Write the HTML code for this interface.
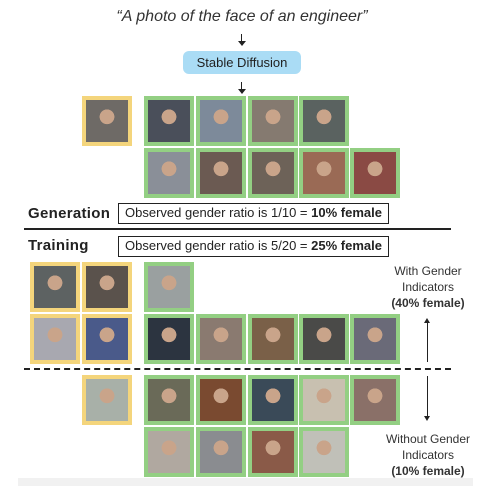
<!DOCTYPE html>
<html><head><meta charset="utf-8"><style>
body{margin:0;width:480px;height:486px;background:#fff;position:relative;overflow:hidden;font-family:"Liberation Sans",sans-serif;color:#222}
.a{position:absolute}
.t{position:absolute;width:50px;height:50px;box-sizing:border-box;border:4px solid #93cf83}
.y{border-color:#f4d57c}
.box{position:absolute;border:1.5px solid #222;box-sizing:border-box;font-size:13px;text-align:center;line-height:18px;white-space:nowrap}
.rt{position:absolute;left:380px;width:96px;text-align:center;font-size:12px;line-height:16px;color:#333}
</style></head><body>
<div class="a" style="left:0;width:484px;top:8px;text-align:center;font-style:italic;font-size:16px;color:#333">“A photo of the face of an engineer”</div>
<div class="a" style="left:241px;top:34px;width:1px;height:10px;background:#222"></div>
<div class="a" style="left:238px;top:41px;border-left:4px solid transparent;border-right:4px solid transparent;border-top:5px solid #222"></div>
<div class="a" style="left:183px;top:51px;width:118px;height:23px;background:#aadcf5;border-radius:6px;text-align:center;line-height:23px;font-size:13px;color:#222">Stable Diffusion</div>
<div class="a" style="left:241px;top:82px;width:1px;height:10px;background:#222"></div>
<div class="a" style="left:238px;top:89px;border-left:4px solid transparent;border-right:4px solid transparent;border-top:5px solid #222"></div>
<div id="tiles"></div>
<div class="a" style="left:28px;top:205px;font-weight:bold;font-size:15px;letter-spacing:0.3px">Generation</div>
<div class="box" style="left:118px;top:203px;width:271px;height:21px">Observed gender ratio is 1/10 = <b>10% female</b></div>
<div class="a" style="left:24px;top:228px;width:427px;height:2px;background:#222"></div>
<div class="a" style="left:28px;top:237px;font-weight:bold;font-size:15px;letter-spacing:0.3px">Training</div>
<div class="box" style="left:118px;top:236px;width:271px;height:21px">Observed gender ratio is 5/20 = <b>25% female</b></div>
<div class="a" style="left:24px;top:368px;width:427px;border-top:2px dashed #222"></div>
<div class="rt" style="top:263px">With Gender<br>Indicators<br><b>(40% female)</b></div>
<div class="rt" style="top:431px">Without Gender<br>Indicators<br><b>(10% female)</b></div>
<div class="a" style="left:427px;top:320px;width:1px;height:42px;background:#222"></div>
<div class="a" style="left:424px;top:318px;border-left:3px solid transparent;border-right:3px solid transparent;border-bottom:5px solid #222"></div>
<div class="a" style="left:427px;top:376px;width:1px;height:42px;background:#222"></div>
<div class="a" style="left:424px;top:416px;border-left:3px solid transparent;border-right:3px solid transparent;border-top:5px solid #222"></div>
<div class="a" style="left:18px;top:478px;width:455px;height:8px;background:#f1f1f1"></div>
<script>
const cols=[30,82,144,196,248,299,350];
const rows=[96,148,262,314,375,427];
// [row, col, yellow, inner color]
const tiles=[[0,1,1,'#6e6a66'],[0,2,0,'#4a4f5a'],[0,3,0,'#7d8a9a'],[0,4,0,'#857a70'],[0,5,0,'#5a6260'],
[1,2,0,'#8a8f98'],[1,3,0,'#6b5a52'],[1,4,0,'#6d6258'],[1,5,0,'#9a6a55'],[1,6,0,'#8a4a44'],
[2,0,1,'#5d6262'],[2,1,1,'#5a524c'],[2,2,0,'#9aa0a0'],
[3,0,1,'#a8a8b0'],[3,1,1,'#4a5a8a'],[3,2,0,'#2c3440'],[3,3,0,'#8a7a70'],[3,4,0,'#7a6048'],[3,5,0,'#4a4a48'],[3,6,0,'#6a6a78'],
[4,1,1,'#a8b0a8'],[4,2,0,'#6a6a58'],[4,3,0,'#7a4a30'],[4,4,0,'#3a4a58'],[4,5,0,'#c8c0b0'],[4,6,0,'#8a7068'],
[5,2,0,'#b0a8a0'],[5,3,0,'#8a8c90'],[5,4,0,'#8a5a48'],[5,5,0,'#c0c0b8']];
const c=document.getElementById('tiles');
tiles.forEach((d,i)=>{const e=document.createElement('div');
e.className='t'+(d[2]?' y':'');
e.style.left=cols[d[1]]+'px';e.style.top=rows[d[0]]+'px';
e.style.background='radial-gradient(circle at 50% 40%,#c9a48a 0 22%,'+d[3]+' 23%)';


c.appendChild(e);});
</script>
</body></html>
